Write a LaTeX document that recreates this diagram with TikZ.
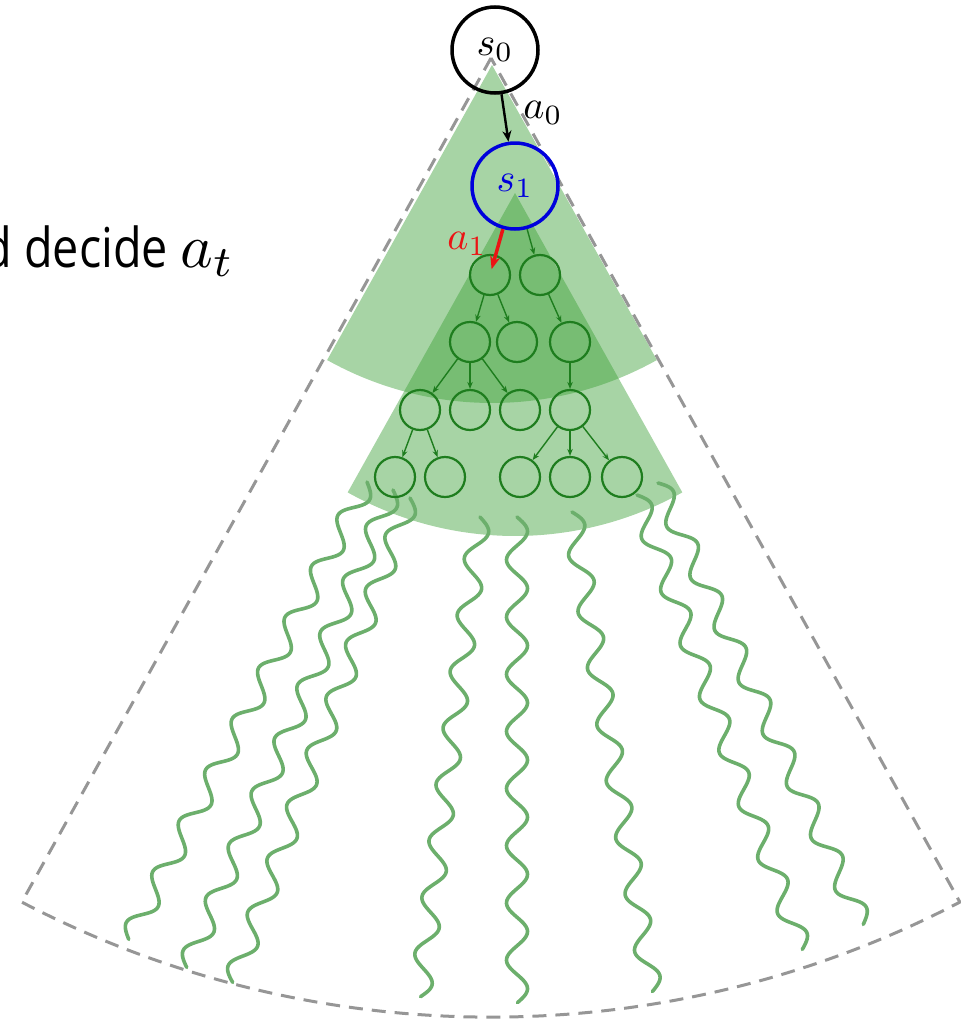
\documentclass[tikz,border=0pt]{standalone}
\usepackage{fontspec}
\newfontfamily\slidefont[FakeStretch=0.85]{Open Sans}
\usetikzlibrary{arrows.meta,calc}
\definecolor{sectgreen}{RGB}{60,160,55}
\definecolor{treegreen}{RGB}{30,125,30}
\definecolor{wavegreen}{RGB}{108,175,108}
\definecolor{dashgray}{RGB}{150,150,150}
\definecolor{sblue}{RGB}{0,0,220}
\definecolor{ared}{RGB}{235,20,20}
\newcommand\bigmath[2]{{\normalsize\scalebox{#1}{$#2$}}}
\tikzset{
  sector/.style={fill=sectgreen, fill opacity=0.45},
  horizon/.style={draw=dashgray, line width=3pt, dash pattern=on 14pt off 9pt},
  state/.style={circle, minimum size=86pt, inner sep=0pt, line width=3.5pt},
  leaf/.style={circle, draw=treegreen, minimum size=40pt, inner sep=0pt, line width=2.2pt},
  tedge/.style={draw=treegreen, line width=1.4pt, -{Stealth[length=7pt,width=5.5pt]}},
  rollout/.style={draw=wavegreen, line width=3.6pt, line cap=round, line join=round},
  actlabel/.style={inner sep=0pt},
  a0arrow/.style={draw=black, line width=2.4pt, -{Stealth[length=11pt,width=9pt]}},
  a1arrow/.style={draw=ared, line width=3.5pt, -{Stealth[length=13pt,width=10pt]}, shorten >=6pt},
}
\newcommand\wavy[3]{%
  \draw[rollout] let \p1=(#1), \p2=(#2), \n1={veclen(\x2-\x1,\y2-\y1)} in
    plot[variable=\t, domain=0:1, samples=300, smooth]
    ({\x1+(\x2-\x1)*\t-10.5pt*sin(360*#3*\t)*(\y2-\y1)/\n1},
     {\y1+(\y2-\y1)*\t+10.5pt*sin(360*#3*\t)*(\x2-\x1)/\n1});}
\begin{document}
\begin{tikzpicture}[x=1pt,y=1pt]
\useasboundingbox (0,0) rectangle (961,-1020);
% green search sectors
\coordinate (ap1) at (492,-65);
\coordinate (ap2) at (515,-193);
\fill[sector] (ap1) -- ++(240.8:338) arc[start angle=240.8, end angle=299.2, radius=338] -- cycle;
\fill[sector] (ap2) -- ++(240.8:343) arc[start angle=240.8, end angle=299.2, radius=343] -- cycle;
% dashed horizon
\coordinate (apex) at (491,-58);
\coordinate (cl) at (21.8,-902.1);
\draw[horizon] (apex) -- (cl) arc[start angle=242.44, end angle=297.56, radius=1013.8] -- cycle;
% rollouts
\coordinate (w1s) at (367,-482); \coordinate (w1e) at (129,-940);
\coordinate (w2s) at (393,-490); \coordinate (w2e) at (187,-968);
\coordinate (w3s) at (410,-498); \coordinate (w3e) at (233,-983);
\coordinate (w4s) at (480,-517); \coordinate (w4e) at (420,-997);
\coordinate (w5s) at (517,-517); \coordinate (w5e) at (517,-1003);
\coordinate (w6s) at (572,-512); \coordinate (w6e) at (652,-992);
\coordinate (w7s) at (637,-495); \coordinate (w7e) at (802,-950);
\coordinate (w8s) at (658,-483); \coordinate (w8e) at (863,-925);
\wavy{w1s}{w1e}{9}
\wavy{w2s}{w2e}{9}
\wavy{w3s}{w3e}{9}
\wavy{w4s}{w4e}{8.5}
\wavy{w5s}{w5e}{8.5}
\wavy{w6s}{w6e}{8.5}
\wavy{w7s}{w7e}{8.5}
\wavy{w8s}{w8e}{8.5}
% tree
\node[leaf] (r11) at (490,-275) {};
\node[leaf] (r12) at (540,-275) {};
\node[leaf] (r21) at (470,-342) {};
\node[leaf] (r22) at (517,-342) {};
\node[leaf] (r23) at (570,-342) {};
\node[leaf] (r31) at (420,-410) {};
\node[leaf] (r32) at (470,-410) {};
\node[leaf] (r33) at (520,-410) {};
\node[leaf] (r34) at (570,-410) {};
\node[leaf] (r41) at (395,-477) {};
\node[leaf] (r42) at (445,-477) {};
\node[leaf] (r43) at (520,-477) {};
\node[leaf] (r44) at (570,-477) {};
\node[leaf] (r45) at (622,-477) {};
\draw[tedge] (r11) -- (r21);
\draw[tedge] (r11) -- (r22);
\draw[tedge] (r12) -- (r23);
\draw[tedge] (r21) -- (r31);
\draw[tedge] (r21) -- (r32);
\draw[tedge] (r21) -- (r33);
\draw[tedge] (r23) -- (r34);
\draw[tedge] (r31) -- (r41);
\draw[tedge] (r31) -- (r42);
\draw[tedge] (r34) -- (r43);
\draw[tedge] (r34) -- (r44);
\draw[tedge] (r34) -- (r45);
% states
\node[state, draw=black] (s0) at (495,-50) {\bigmath{4}{s_0}};
\node[state, draw=sblue, text=sblue] (s1) at (515,-186) {\bigmath{4}{s_1}};
\draw[a0arrow] (s0) -- (s1);
\node[actlabel] (la0) at (543,-113) {\bigmath{4}{a_0}};
\draw[tedge] (s1) -- (r12);
\draw[a1arrow] (s1) -- (r11.center);
\node[actlabel, text=ared] (la1) at (467,-244) {\bigmath{4}{a_1}};
% slide text
\node[anchor=base east, inner sep=0pt] (txt) at (235,-267)
  {\slidefont\fontsize{55}{62}\selectfont d decide \bigmath{6.2}{a_t}};
\end{tikzpicture}
\end{document}
